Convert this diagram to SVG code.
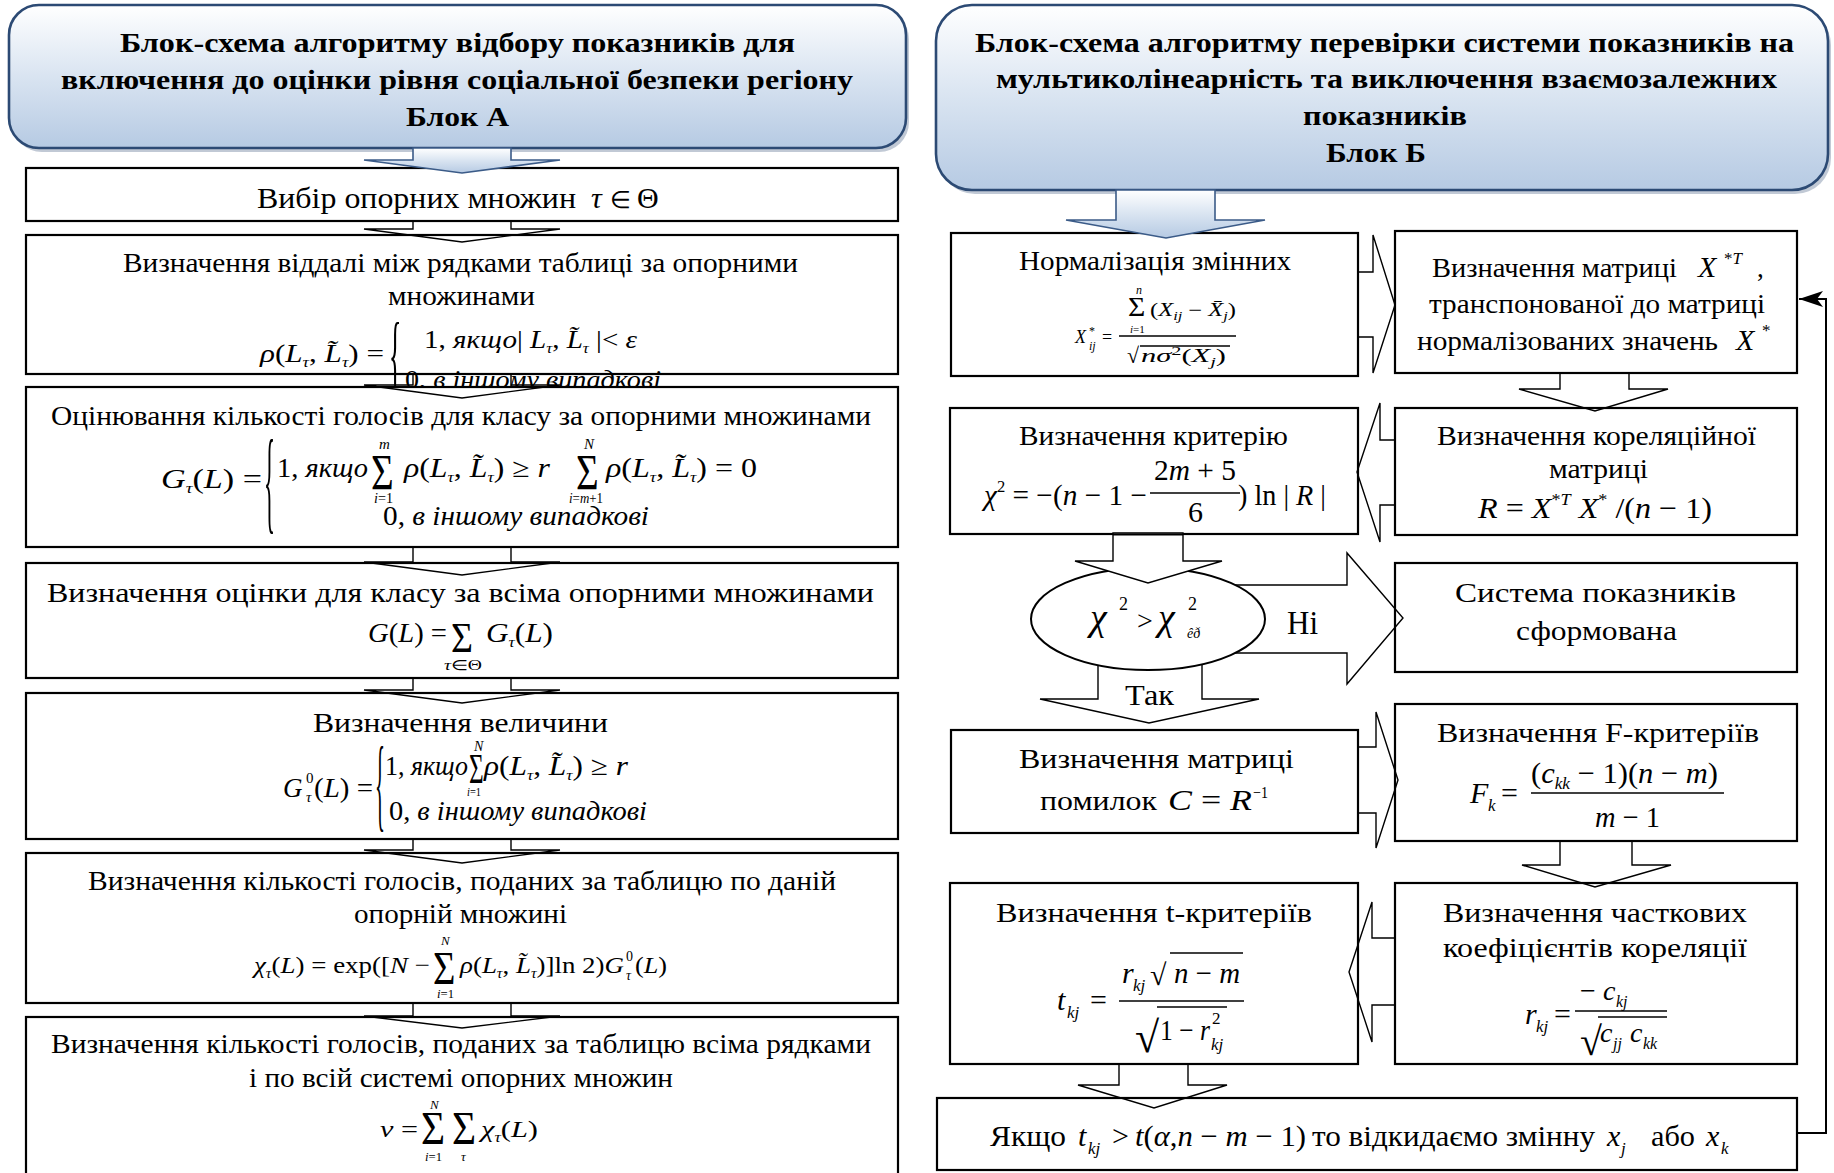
<svg xmlns="http://www.w3.org/2000/svg" width="1834" height="1173" viewBox="0 0 1834 1173">
<defs>
<linearGradient id="g" x1="0" y1="0" x2="0" y2="1">
<stop offset="0" stop-color="#ffffff"/>
<stop offset="0.5" stop-color="#d9e4f1"/>
<stop offset="1" stop-color="#b6cae3"/>
</linearGradient>
<marker id="ah" viewBox="0 0 24 16" refX="24" refY="8" markerWidth="24" markerHeight="16" markerUnits="userSpaceOnUse" orient="auto">
<path d="M0,0 L24,8 L0,16 L6,8 z" fill="#000"/>
</marker>
<style>
text{font-family:"Liberation Serif","Times New Roman",serif;fill:#000}
.t{font-size:27px}
.h{font-size:28px;font-weight:bold}
.i{font-style:italic}
.box{fill:#fff;stroke:#000;stroke-width:2.2}
.hdr{fill:url(#g);stroke:#2c4a74;stroke-width:2.6}
.sh{fill:#8e9db3;opacity:0.55}
.arr{fill:none;stroke:#000;stroke-width:1.4}
.arw{fill:#fff;stroke:#000;stroke-width:1.4}
.harr{fill:url(#g);stroke:#3b5b88;stroke-width:1.6}
.ln{stroke:#000;stroke-width:1.3;fill:none}
</style>
</defs>
<rect width="1834" height="1173" fill="#fff"/>

<!-- LEFT COLUMN -->
<g id="headerA">
<rect class="sh" x="12" y="9" width="897" height="143" rx="30"/>
<rect class="hdr" x="9" y="5" width="897" height="143" rx="30"/>
<text class="h" x="120" y="52" textLength="675" lengthAdjust="spacingAndGlyphs">Блок-схема алгоритму відбору показників для</text>
<text class="h" x="61" y="89" textLength="792" lengthAdjust="spacingAndGlyphs">включення до оцінки рівня соціальної безпеки регіону</text>
<text class="h" x="406" y="126" textLength="103" lengthAdjust="spacingAndGlyphs">Блок А</text>
</g>

<g id="a1">
<rect class="box" x="26" y="168" width="872" height="53"/>
<text x="257" y="208" font-size="30" textLength="319" lengthAdjust="spacingAndGlyphs">Вибір опорних множин</text>
<text class="i" x="591" y="208" font-size="30">τ</text>
<text x="610" y="208" font-size="24">∈</text>
<text x="637" y="208" font-size="30">Θ</text>
</g>

<g id="a2">
<rect class="box" x="26" y="235" width="872" height="139"/>
<text class="t" x="123" y="272" textLength="675" lengthAdjust="spacingAndGlyphs">Визначення віддалі між рядками таблиці за опорними</text>
<text class="t" x="388" y="305" textLength="147" lengthAdjust="spacingAndGlyphs">множинами</text>
<text x="260" y="362" font-size="26" textLength="124" lengthAdjust="spacingAndGlyphs"><tspan class="i">ρ</tspan>(<tspan class="i">L</tspan><tspan class="i" font-size="15" dy="5">τ</tspan><tspan dy="-5">, </tspan><tspan class="i">L&#771;</tspan><tspan class="i" font-size="15" dy="5">τ</tspan><tspan dy="-5">) =</tspan></text>
<text font-size="92" transform="translate(389,385) scale(0.28,1)">{</text>
<text x="424" y="348" font-size="26" textLength="213" lengthAdjust="spacingAndGlyphs">1, <tspan class="i">якщо</tspan>| <tspan class="i">L</tspan><tspan class="i" font-size="15" dy="5">τ</tspan><tspan dy="-5">, </tspan><tspan class="i">L&#771;</tspan><tspan class="i" font-size="15" dy="5">τ</tspan><tspan dy="-5"> |&lt; </tspan><tspan class="i">ε</tspan></text>
<text x="405" y="388" font-size="26" textLength="256" lengthAdjust="spacingAndGlyphs">0, <tspan class="i">в іншому випадкові</tspan></text>
</g>

<g id="a3">
<rect class="box" x="26" y="387" width="872" height="160"/>
<text class="t" x="51" y="425" textLength="820" lengthAdjust="spacingAndGlyphs">Оцінювання кількості голосів для класу за опорними множинами</text>
<text x="161" y="488" font-size="27" textLength="101" lengthAdjust="spacingAndGlyphs"><tspan class="i">G</tspan><tspan class="i" font-size="15" dy="5">τ</tspan><tspan dy="-5">(</tspan><tspan class="i">L</tspan>) =</text>
<text font-size="115" transform="translate(264,519) scale(0.2,1)">{</text>
<text x="277" y="477" font-size="27" textLength="91" lengthAdjust="spacingAndGlyphs">1, <tspan class="i">якщо</tspan></text>
<text font-size="50" transform="translate(371,489) scale(0.78,1)">Σ</text>
<text class="i" x="379" y="449" font-size="15">m</text>
<text x="374" y="503" font-size="14" textLength="19" lengthAdjust="spacingAndGlyphs"><tspan class="i">i</tspan>=1</text>
<text x="404" y="477" font-size="27" textLength="146" lengthAdjust="spacingAndGlyphs"><tspan class="i">ρ</tspan>(<tspan class="i">L</tspan><tspan class="i" font-size="15" dy="5">τ</tspan><tspan dy="-5">, </tspan><tspan class="i">L&#771;</tspan><tspan class="i" font-size="15" dy="5">τ</tspan><tspan dy="-5">) ≥ </tspan><tspan class="i">r</tspan></text>
<text font-size="50" transform="translate(576,489) scale(0.78,1)">Σ</text>
<text class="i" x="584" y="449" font-size="15">N</text>
<text x="569" y="503" font-size="14" textLength="34" lengthAdjust="spacingAndGlyphs"><tspan class="i">i</tspan>=<tspan class="i">m</tspan>+1</text>
<text x="606" y="477" font-size="27" textLength="151" lengthAdjust="spacingAndGlyphs"><tspan class="i">ρ</tspan>(<tspan class="i">L</tspan><tspan class="i" font-size="15" dy="5">τ</tspan><tspan dy="-5">, </tspan><tspan class="i">L&#771;</tspan><tspan class="i" font-size="15" dy="5">τ</tspan><tspan dy="-5">) = 0</tspan></text>
<text x="383" y="525" font-size="27" textLength="266" lengthAdjust="spacingAndGlyphs">0, <tspan class="i">в іншому випадкові</tspan></text>
</g>

<g id="a4">
<rect class="box" x="26" y="563" width="872" height="115"/>
<text class="t" x="47" y="602" textLength="827" lengthAdjust="spacingAndGlyphs">Визначення оцінки для класу за всіма опорними множинами</text>
<text x="368" y="642" font-size="27" textLength="79" lengthAdjust="spacingAndGlyphs"><tspan class="i">G</tspan>(<tspan class="i">L</tspan>) =</text>
<text font-size="42" transform="translate(451,652) scale(0.9,1)">Σ</text>
<text x="444" y="670" font-size="14" textLength="38" lengthAdjust="spacingAndGlyphs"><tspan class="i">τ</tspan>∈Θ</text>
<text x="486" y="642" font-size="27" textLength="67" lengthAdjust="spacingAndGlyphs"><tspan class="i">G</tspan><tspan class="i" font-size="15" dy="5">τ</tspan><tspan dy="-5">(</tspan><tspan class="i">L</tspan>)</text>
</g>

<g id="a5">
<rect class="box" x="26" y="693" width="872" height="146"/>
<text class="t" x="313" y="732" textLength="295" lengthAdjust="spacingAndGlyphs">Визначення величини</text>
<text class="i" x="283" y="797" font-size="27">G</text>
<text x="306" y="783" font-size="15">0</text>
<text class="i" x="306" y="802" font-size="15">τ</text>
<text x="314" y="797" font-size="27" textLength="59" lengthAdjust="spacingAndGlyphs">(<tspan class="i">L</tspan>) =</text>
<text font-size="104" transform="translate(375,818) scale(0.2,1)">{</text>
<text x="385" y="775" font-size="27" textLength="83" lengthAdjust="spacingAndGlyphs">1, <tspan class="i">якщо</tspan></text>
<text font-size="42" transform="translate(469,783) scale(0.6,1)">Σ</text>
<text class="i" x="474" y="751" font-size="14">N</text>
<text x="467" y="796" font-size="13" textLength="14" lengthAdjust="spacingAndGlyphs"><tspan class="i">i</tspan>=1</text>
<text x="484" y="775" font-size="27" textLength="144" lengthAdjust="spacingAndGlyphs"><tspan class="i">ρ</tspan>(<tspan class="i">L</tspan><tspan class="i" font-size="15" dy="5">τ</tspan><tspan dy="-5">, </tspan><tspan class="i">L&#771;</tspan><tspan class="i" font-size="15" dy="5">τ</tspan><tspan dy="-5">) ≥ </tspan><tspan class="i">r</tspan></text>
<text x="389" y="820" font-size="27" textLength="258" lengthAdjust="spacingAndGlyphs">0, <tspan class="i">в іншому випадкові</tspan></text>
</g>

<g id="a6">
<rect class="box" x="26" y="853" width="872" height="150"/>
<text class="t" x="88" y="890" textLength="748" lengthAdjust="spacingAndGlyphs">Визначення кількості голосів, поданих за таблицю по даній</text>
<text class="t" x="354" y="923" textLength="213" lengthAdjust="spacingAndGlyphs">опорній множині</text>
<text x="254" y="973" font-size="24" textLength="176" lengthAdjust="spacingAndGlyphs"><tspan class="i">χ</tspan><tspan class="i" font-size="14" dy="5">τ</tspan><tspan dy="-5">(</tspan><tspan class="i">L</tspan>) = exp([<tspan class="i">N</tspan> −</text>
<text font-size="47" transform="translate(433,984) scale(0.82,1)">Σ</text>
<text class="i" x="441" y="945" font-size="13">N</text>
<text x="437" y="998" font-size="13" textLength="17" lengthAdjust="spacingAndGlyphs"><tspan class="i">i</tspan>=1</text>
<text x="460" y="973" font-size="24" textLength="164" lengthAdjust="spacingAndGlyphs"><tspan class="i">ρ</tspan>(<tspan class="i">L</tspan><tspan class="i" font-size="14" dy="5">τ</tspan><tspan dy="-5">, </tspan><tspan class="i">L&#771;</tspan><tspan class="i" font-size="14" dy="5">τ</tspan><tspan dy="-5">)]ln 2)</tspan><tspan class="i">G</tspan></text>
<text x="626" y="961" font-size="14">0</text>
<text class="i" x="626" y="980" font-size="14">τ</text>
<text x="635" y="973" font-size="24" textLength="32" lengthAdjust="spacingAndGlyphs">(<tspan class="i">L</tspan>)</text>
</g>

<g id="a7">
<rect class="box" x="26" y="1017" width="872" height="170"/>
<text class="t" x="51" y="1053" textLength="820" lengthAdjust="spacingAndGlyphs">Визначення кількості голосів, поданих за таблицю всіма рядками</text>
<text class="t" x="249" y="1087" textLength="424" lengthAdjust="spacingAndGlyphs">і по всій системі опорних множин</text>
<text x="380" y="1137" font-size="24" textLength="38" lengthAdjust="spacingAndGlyphs"><tspan class="i">ν</tspan> =</text>
<text font-size="46" transform="translate(421,1144) scale(0.9,1)">Σ</text>
<text font-size="46" transform="translate(452,1144) scale(0.9,1)">Σ</text>
<text class="i" x="430" y="1109" font-size="13">N</text>
<text x="425" y="1161" font-size="13" textLength="17" lengthAdjust="spacingAndGlyphs"><tspan class="i">i</tspan>=1</text>
<text class="i" x="461" y="1161" font-size="13">τ</text>
<text x="481" y="1137" font-size="24" textLength="57" lengthAdjust="spacingAndGlyphs"><tspan class="i">χ</tspan><tspan class="i" font-size="14" dy="5">τ</tspan><tspan dy="-5">(</tspan><tspan class="i">L</tspan>)</text>
</g>

<!-- RIGHT COLUMN -->
<g id="headerB">
<rect class="sh" x="939" y="9" width="892" height="185" rx="36"/>
<rect class="hdr" x="936" y="5" width="892" height="185" rx="36"/>
<text class="h" x="975" y="52" textLength="819" lengthAdjust="spacingAndGlyphs">Блок-схема алгоритму перевірки системи показників на</text>
<text class="h" x="996" y="88" textLength="781" lengthAdjust="spacingAndGlyphs">мультиколінеарність та виключення взаємозалежних</text>
<text class="h" x="1303" y="125" textLength="164" lengthAdjust="spacingAndGlyphs">показників</text>
<text class="h" x="1326" y="162" textLength="100" lengthAdjust="spacingAndGlyphs">Блок Б</text>
</g>

<g id="b1">
<rect class="box" x="951" y="233" width="407" height="143"/>
<text class="t" x="1019" y="270" textLength="272" lengthAdjust="spacingAndGlyphs">Нормалізація змінних</text>
<text class="i" x="1075" y="343" font-size="18">X</text>
<text x="1089" y="335" font-size="12">*</text>
<text class="i" x="1089" y="350" font-size="12">ij</text>
<text x="1102" y="343" font-size="18">=</text>
<text font-size="27" transform="translate(1128,316) scale(1.1,1)">Σ</text>
<text class="i" x="1136" y="294" font-size="12">n</text>
<text x="1130" y="333" font-size="11"><tspan class="i">i</tspan>=1</text>
<text x="1150" y="316" font-size="18" textLength="86" lengthAdjust="spacingAndGlyphs">(<tspan class="i">X</tspan><tspan class="i" font-size="12" dy="4">ij</tspan><tspan dy="-4"> − </tspan><tspan class="i">X&#772;</tspan><tspan class="i" font-size="12" dy="4">j</tspan><tspan dy="-4">)</tspan></text>
<line class="ln" x1="1119" y1="336" x2="1236" y2="336"/>
<text x="1127" y="363" font-size="22">√</text>
<line class="ln" x1="1140" y1="346" x2="1230" y2="346"/>
<text x="1141" y="362" font-size="18" textLength="85" lengthAdjust="spacingAndGlyphs"><tspan class="i">nσ</tspan><tspan font-size="12" dy="-7">2</tspan><tspan dy="7">(</tspan><tspan class="i">X</tspan><tspan class="i" font-size="12" dy="4">j</tspan><tspan dy="-4">)</tspan></text>
</g>

<g id="b2">
<rect class="box" x="1395" y="231" width="402" height="142"/>
<text class="t" x="1432" y="277" textLength="245" lengthAdjust="spacingAndGlyphs">Визначення матриці</text>
<text class="i" x="1698" y="277" font-size="30">X</text>
<text x="1724" y="264" font-size="17">*<tspan class="i">T</tspan></text>
<text x="1757" y="277" font-size="27">,</text>
<text class="t" x="1429" y="313" textLength="336" lengthAdjust="spacingAndGlyphs">транспонованої до матриці</text>
<text class="t" x="1417" y="350" textLength="301" lengthAdjust="spacingAndGlyphs">нормалізованих значень</text>
<text class="i" x="1736" y="350" font-size="30">X</text>
<text x="1762" y="336" font-size="17">*</text>
</g>

<g id="b3">
<rect class="box" x="950" y="408" width="408" height="126"/>
<text class="t" x="1019" y="445" textLength="269" lengthAdjust="spacingAndGlyphs">Визначення критерію</text>
<text x="984" y="505" font-size="30" textLength="163" lengthAdjust="spacingAndGlyphs"><tspan class="i">χ</tspan><tspan font-size="17" dy="-13">2</tspan><tspan dy="13"> = −(</tspan><tspan class="i">n</tspan> − 1 −</text>
<text x="1154" y="480" font-size="30" textLength="82" lengthAdjust="spacingAndGlyphs">2<tspan class="i">m</tspan> + 5</text>
<line class="ln" x1="1150" y1="493" x2="1240" y2="493"/>
<text x="1188" y="522" font-size="30">6</text>
<text x="1238" y="505" font-size="30" textLength="88" lengthAdjust="spacingAndGlyphs">) ln | <tspan class="i">R</tspan> |</text>
</g>

<g id="b4">
<rect class="box" x="1395" y="408" width="402" height="127"/>
<text class="t" x="1437" y="445" textLength="319" lengthAdjust="spacingAndGlyphs">Визначення кореляційної</text>
<text class="t" x="1549" y="478" textLength="99" lengthAdjust="spacingAndGlyphs">матриці</text>
<text x="1478" y="518" font-size="30" textLength="234" lengthAdjust="spacingAndGlyphs"><tspan class="i">R</tspan> = <tspan class="i">X</tspan><tspan font-size="17" dy="-13">*</tspan><tspan class="i" font-size="17">T</tspan><tspan dy="13"> </tspan><tspan class="i">X</tspan><tspan font-size="17" dy="-13">*</tspan><tspan dy="13"> /(</tspan><tspan class="i">n</tspan> − 1)</text>
</g>

<g id="b5">
<ellipse cx="1148" cy="619" rx="117" ry="51" fill="#fff" stroke="#000" stroke-width="2"/>
<text class="i" x="1090" y="630" font-size="38">χ</text>
<text x="1119" y="610" font-size="18">2</text>
<text x="1137" y="630" font-size="28">&gt;</text>
<text class="i" x="1158" y="630" font-size="38">χ</text>
<text x="1188" y="610" font-size="18">2</text>
<text class="i" x="1187" y="638" font-size="14">êð</text>
</g>

<g id="b6">
<rect class="box" x="1395" y="563" width="402" height="109"/>
<text class="t" x="1455" y="602" textLength="281" lengthAdjust="spacingAndGlyphs">Система  показників</text>
<text class="t" x="1516" y="640" textLength="161" lengthAdjust="spacingAndGlyphs">сформована</text>
</g>

<g id="b7">
<rect class="box" x="951" y="730" width="407" height="103"/>
<text class="t" x="1019" y="768" textLength="275" lengthAdjust="spacingAndGlyphs">Визначення матриці</text>
<text class="t" x="1040" y="810" textLength="117" lengthAdjust="spacingAndGlyphs">помилок</text>
<text x="1168" y="810" font-size="30" textLength="84" lengthAdjust="spacingAndGlyphs"><tspan class="i">C</tspan> = <tspan class="i">R</tspan></text>
<text x="1253" y="798" font-size="16" textLength="15" lengthAdjust="spacingAndGlyphs">−1</text>
</g>

<g id="b8">
<rect class="box" x="1395" y="704" width="402" height="137"/>
<text class="t" x="1437" y="742" textLength="322" lengthAdjust="spacingAndGlyphs">Визначення F-критеріїв</text>
<text class="i" x="1470" y="803" font-size="30">F</text>
<text class="i" x="1488" y="811" font-size="17">k</text>
<text x="1501" y="803" font-size="30">=</text>
<text x="1531" y="783" font-size="30" textLength="187" lengthAdjust="spacingAndGlyphs">(<tspan class="i">c</tspan><tspan class="i" font-size="17" dy="6">kk</tspan><tspan dy="-6"> − 1)(</tspan><tspan class="i">n</tspan> − <tspan class="i">m</tspan>)</text>
<line class="ln" x1="1531" y1="793" x2="1724" y2="793"/>
<text x="1595" y="827" font-size="30" textLength="65" lengthAdjust="spacingAndGlyphs"><tspan class="i">m</tspan> − 1</text>
</g>

<g id="b9">
<rect class="box" x="950" y="883" width="408" height="181"/>
<text class="t" x="996" y="922" textLength="316" lengthAdjust="spacingAndGlyphs">Визначення t-критеріїв</text>
<text class="i" x="1057" y="1010" font-size="30">t</text>
<text class="i" x="1067" y="1018" font-size="17">kj</text>
<text x="1090" y="1010" font-size="30">=</text>
<text class="i" x="1122" y="983" font-size="30">r</text>
<text class="i" x="1133" y="991" font-size="17">kj</text>
<text x="1150" y="985" font-size="30">√</text>
<line class="ln" x1="1170" y1="953" x2="1243" y2="953"/>
<text x="1174" y="983" font-size="30" textLength="66" lengthAdjust="spacingAndGlyphs"><tspan class="i">n</tspan> − <tspan class="i">m</tspan></text>
<line class="ln" x1="1119" y1="1001" x2="1244" y2="1001"/>
<text x="1135" y="1052" font-size="44">√</text>
<line class="ln" x1="1157" y1="1007" x2="1227" y2="1007"/>
<text x="1160" y="1040" font-size="30" textLength="50" lengthAdjust="spacingAndGlyphs">1 − <tspan class="i">r</tspan></text>
<text x="1212" y="1024" font-size="17">2</text>
<text class="i" x="1211" y="1050" font-size="17">kj</text>
</g>

<g id="b10">
<rect class="box" x="1395" y="883" width="402" height="181"/>
<text class="t" x="1443" y="922" textLength="304" lengthAdjust="spacingAndGlyphs">Визначення часткових</text>
<text class="t" x="1443" y="957" textLength="304" lengthAdjust="spacingAndGlyphs">коефіцієнтів кореляції</text>
<text class="i" x="1525" y="1024" font-size="30">r</text>
<text class="i" x="1536" y="1032" font-size="17">kj</text>
<text x="1554" y="1024" font-size="30">=</text>
<text x="1580" y="1000" font-size="28">−</text>
<text class="i" x="1603" y="1000" font-size="28">c</text>
<text class="i" x="1616" y="1007" font-size="16">kj</text>
<line class="ln" x1="1575" y1="1011" x2="1667" y2="1011"/>
<text x="1580" y="1055" font-size="40">√</text>
<line class="ln" x1="1598" y1="1017" x2="1667" y2="1017"/>
<text class="i" x="1600" y="1042" font-size="28">c</text>
<text class="i" x="1613" y="1049" font-size="16">jj</text>
<text class="i" x="1630" y="1042" font-size="28">c</text>
<text class="i" x="1643" y="1049" font-size="16">kk</text>
</g>

<g id="b11">
<rect class="box" x="937" y="1098" width="860" height="72"/>
<text x="990" y="1146" font-size="30" textLength="76" lengthAdjust="spacingAndGlyphs">Якщо</text>
<text class="i" x="1078" y="1146" font-size="30">t</text>
<text class="i" x="1088" y="1154" font-size="17">kj</text>
<text x="1112" y="1146" font-size="30">&gt;</text>
<text x="1135" y="1146" font-size="30" textLength="171" lengthAdjust="spacingAndGlyphs"><tspan class="i">t</tspan>(<tspan class="i">α</tspan>,<tspan class="i">n</tspan> − <tspan class="i">m</tspan> − 1)</text>
<text x="1312" y="1146" font-size="30" textLength="283" lengthAdjust="spacingAndGlyphs">то відкидаємо змінну</text>
<text class="i" x="1607" y="1146" font-size="30">x</text>
<text class="i" x="1621" y="1154" font-size="17">j</text>
<text x="1651" y="1146" font-size="30" textLength="44" lengthAdjust="spacingAndGlyphs">або</text>
<text class="i" x="1706" y="1146" font-size="30">x</text>
<text class="i" x="1721" y="1154" font-size="17">k</text>
</g>

<!-- CONNECTORS -->
<g id="connectors">
<polygon class="harr" points="413,148 413,160 364,160 462,173 560,160 511,160 511,148"/>
<polyline class="arr" points="413,222 413,229 364,229 462,242 560,229 511,229 511,222"/>
<polyline class="arr" points="413,374 413,385 364,385 462,398 560,385 511,385 511,374"/>
<polyline class="arr" points="413,547 413,562 364,562 462,575 560,562 511,562 511,547"/>
<polyline class="arr" points="413,678 413,690 364,690 462,703 560,690 511,690 511,678"/>
<polyline class="arr" points="413,839 413,850 364,850 462,863 560,850 511,850 511,839"/>
<polyline class="arr" points="413,1003 413,1016 364,1016 462,1028 560,1016 511,1016 511,1003"/>

<polygon class="harr" points="1116,190 1116,220 1066,220 1166,238 1265,220 1215,220 1215,190"/>
<polyline class="arr" points="1358,272 1373,272 1373,235 1395,305 1373,373 1373,337 1358,337"/>
<polyline class="arr" points="1560,373 1560,389 1519,389 1595,411 1668,389 1629,389 1629,373"/>
<polyline class="arr" points="1395,440 1380,440 1380,403 1357,472 1380,542 1380,505 1395,505"/>
<polyline class="arr" points="1358,747 1376,747 1376,712 1398,780 1376,848 1376,813 1358,813"/>
<polyline class="arr" points="1560,841 1560,865 1522,865 1595,887 1671,865 1632,865 1632,841"/>
<polyline class="arr" points="1395,938 1372,938 1372,902 1349,972 1372,1042 1372,1005 1395,1005"/>
<polyline class="arr" points="1119,1064 1119,1085 1078,1085 1154,1108 1227,1085 1188,1085 1188,1064"/>

<polyline class="arr" points="1235,585 1347,585 1347,553 1403,618 1347,684 1347,653 1235,653"/>
<polyline class="arr" points="1098,665 1098,699 1040,699 1149,723 1259,699 1202,699 1202,664"/>
<polygon class="arw" points="1113,533 1113,561 1075,561 1148,583 1222,561 1183,561 1183,533"/>
<line x1="1113" y1="534.5" x2="1183" y2="534.5" stroke="#000" stroke-width="2.2"/>
<text x="1287" y="634" font-size="33" textLength="31" lengthAdjust="spacingAndGlyphs">Ні</text>
<text x="1125" y="705" font-size="29" textLength="49" lengthAdjust="spacingAndGlyphs">Так</text>

<polyline fill="none" stroke="#000" stroke-width="2" points="1797,1133 1826,1133 1826,299 1799,299" marker-end="url(#ah)"/>
</g>
</svg>
